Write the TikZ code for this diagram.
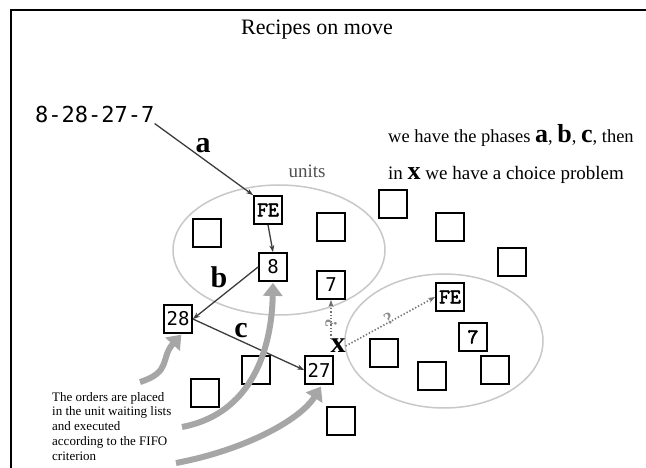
\documentclass[tikz,border=0pt]{standalone}
\usepackage{fontspec}
\setmainfont{Liberation Serif}
\setmonofont{DejaVu Sans Mono}
\newfontfamily\typefont[FakeBold=3]{Latin Modern Mono}
\usetikzlibrary{arrows.meta}

\definecolor{ringgray}{HTML}{C8C8C8}
\definecolor{flowgray}{HTML}{3C3C3C}
\definecolor{hintgray}{HTML}{A6A6A6}
\definecolor{querygray}{HTML}{8C8C8C}
\definecolor{unitsgray}{HTML}{505050}
\newcommand{\phaseletter}[1]{{\fontsize{26}{26}\selectfont\bfseries #1}}

\begin{document}
\begin{tikzpicture}[x=1pt, y=-1pt]
  \tikzstyle{unit} = [draw, line width=1.8pt, minimum size=28pt, inner sep=0pt, font=\fontsize{19}{19}\selectfont\ttfamily]
  \tikzstyle{feunit} = [unit, font=\fontsize{21}{21}\selectfont\typefont]
  \tikzstyle{ring} = [draw=ringgray, line width=1.5pt]
  \tikzstyle{flow} = [draw=flowgray, line width=1.3pt, -{Stealth[length=7pt, width=5pt]}]
  \tikzstyle{choice} = [flow, draw=querygray!80!black, dotted, line width=1.6pt]
  \tikzstyle{hint} = [draw=hintgray, line width=6pt, -{Triangle[length=13pt, width=19pt]}]
  \tikzstyle{phase} = [inner sep=0pt, font=\fontsize{30}{30}\selectfont\bfseries]
  \tikzstyle{caption} = [inner sep=0pt, font=\fontsize{19}{19}\selectfont]
  \tikzstyle{query} = [inner sep=0pt, sloped, text=querygray, font=\fontsize{17}{17}\selectfont\bfseries]
  \useasboundingbox (0,0) rectangle (646,468);
  \fill[white] (0,0) rectangle (646,468);
  \draw[line width=2pt] (11,468) -- (11,10) -- (646,10);

  \node[caption, anchor=base, font=\fontsize{22}{22}\selectfont] (title) at (317,35) {Recipes on move};
  \node[caption, anchor=base west, font=\fontsize{22}{22}\selectfont\ttfamily] (seq) at (35,123) {8-28-27-7};
  \node[caption, anchor=base west, font=\fontsize{18.5}{18.5}\selectfont] (phases) at (388,143) {we have the phases \phaseletter{a}, \phaseletter{b}, \phaseletter{c}, then};
  \node[caption, anchor=base west] (problem) at (388,180) {in \phaseletter{x} we have a choice problem};
  \node[caption, text=unitsgray] (units) at (307,171) {units};
  \node[inner sep=0pt, anchor=north west, align=left, font=\fontsize{13}{14.7}\selectfont] (orders) at (52,392)
    {The orders are placed\\in the unit waiting lists\\and executed\\according to the FIFO\\criterion};

  \draw[ring] (279,250) ellipse [x radius=106pt, y radius=65pt];
  \draw[ring] (444,341) ellipse [x radius=99pt, y radius=67pt];

  \node[feunit] (fe1) at (268,210) {FE};
  \node[unit] (u8) at (273,267) {8};
  \node[unit] (u7a) at (331,285) {7};
  \node[unit] (u28) at (178,319) {28};
  \node[unit] (u27) at (319,370) {27};
  \node[feunit] (fe2) at (450,297) {FE};
  \node[feunit] (u7b) at (473,337) {7};
  \foreach \p [count=\i] in {(207,233),(331,227),(393,204),(450,227),(512,262),(256,370),(205,393),(341,421),(384,353),(432,376),(495,370)}
    \node[unit] (free\i) at \p {};

  \node[phase] (la) at (203,146) {a};
  \node[phase] (lb) at (219,277) {b};
  \node[phase] (lc) at (241,331) {c};
  \node[phase] (x) at (338,346) {x};

  \draw[flow] (seq.south east) -- (fe1.north west);
  \draw[flow] (fe1.south) -- (u8.north);
  \draw[flow] (u8.west) -- (u28.east);
  \draw[flow] (u28.east) -- (u27.west);
  \draw[choice] (u7a.south |- x.north) -- (u7a.south) node[query, pos=.4] {?};
  \draw[choice] (x.east) -- (fe2.west) node[query, pos=.5, above=-3pt] {?};

  \coordinate (t1) at (140,382);
  \coordinate (t2) at (182,427);
  \coordinate (t3) at (176,463);
  \draw[hint, shorten >=1pt] (t1) .. controls (172,372) and (160,358) .. ([xshift=4pt]u28.south);
  \draw[hint, shorten >=1pt] (t2) .. controls (260,412) and (272,335) .. (u8.south);
  \draw[hint, shorten >=2pt] (t3) .. controls (245,450) and (300,420) .. ([xshift=3pt]u27.south);
\end{tikzpicture}
\end{document}
